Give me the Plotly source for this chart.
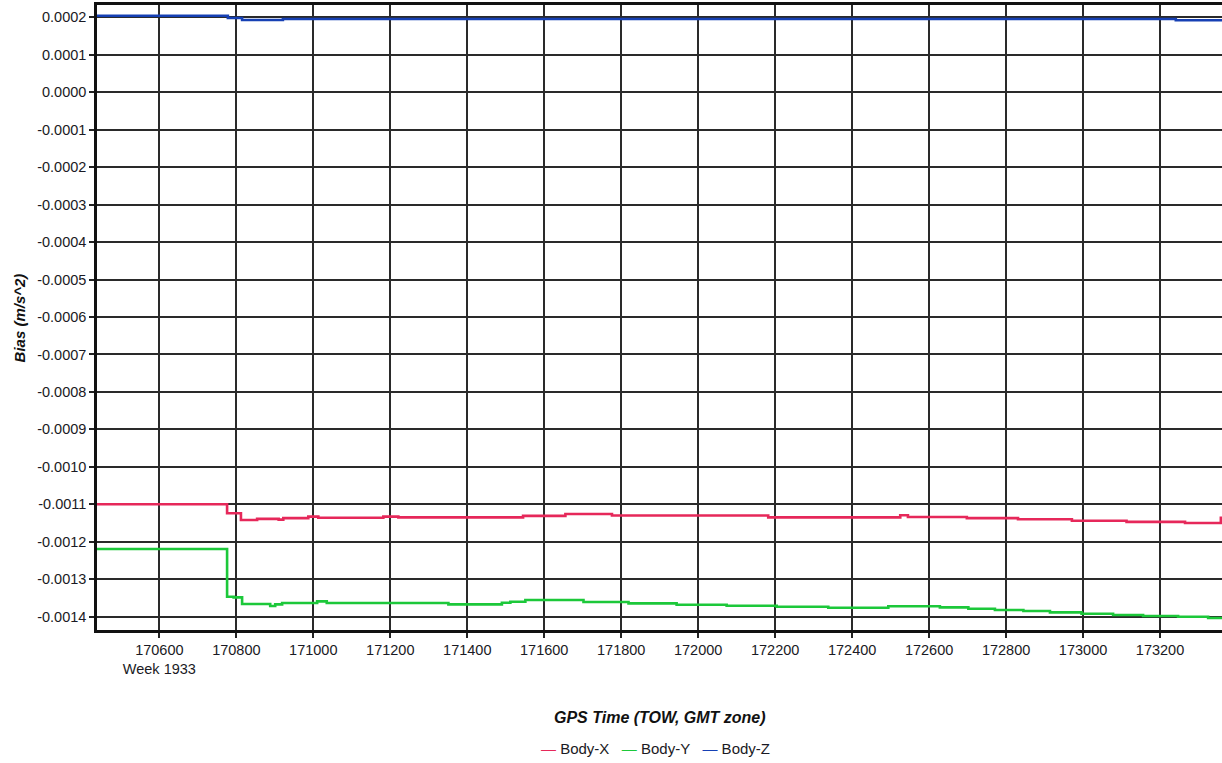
import plotly.graph_objects as go

# ---- data ----
time_x = [170438, 170776, 170812, 170854, 170910, 170922, 170987, 171013, 171182, 171221,
          171545, 171655, 171776, 172182, 172525, 172545, 172698, 172831, 172971, 173113,
          173265, 173358, 173361]
body_x = [-0.001100, -0.001124, -0.001142, -0.001139, -0.001141, -0.001137, -0.001133, -0.001136,
          -0.001133, -0.001135, -0.001131, -0.001126, -0.001130, -0.001135, -0.001129, -0.001134,
          -0.001137, -0.001140, -0.001144, -0.001147, -0.001150, -0.001136, -0.001136]

time_y = [170438, 170776, 170793, 170815, 170888, 170901, 170919, 171010, 171035, 171351,
          171490, 171512, 171551, 171702, 171819, 171944, 172074, 172204, 172338, 172494,
          172628, 172702, 172771, 172845, 172914, 172996, 173078, 173156, 173247, 173325, 173361]
body_y = [-0.0012194, -0.0013467, -0.0013483, -0.0013662, -0.0013715, -0.0013670, -0.0013635,
          -0.0013590, -0.0013635, -0.0013670, -0.0013627, -0.0013600, -0.0013555, -0.0013609,
          -0.0013643, -0.0013680, -0.0013707, -0.0013734, -0.0013761, -0.0013723, -0.0013750,
          -0.0013787, -0.0013822, -0.0013848, -0.0013884, -0.0013921, -0.0013956, -0.0013982,
          -0.0014001, -0.0014036, -0.0014036]

time_z = [170438, 170778, 170815, 170921, 173241, 173361]
body_z = [0.0002043, 0.0001981, 0.0001928, 0.0001955, 0.0001920, 0.0001920]

x_tick_values = [170600, 170800, 171000, 171200, 171400, 171600, 171800, 172000,
                 172200, 172400, 172600, 172800, 173000, 173200]
x_tick_labels = ["170600<br>Week 1933", "170800", "171000", "171200", "171400", "171600",
                 "171800", "172000", "172200", "172400", "172600", "172800", "173000", "173200"]
y_tick_labels = ["0.0002", "0.0001", "0.0000", "-0.0001", "-0.0002", "-0.0003", "-0.0004",
                 "-0.0005", "-0.0006", "-0.0007", "-0.0008", "-0.0009", "-0.0010", "-0.0011",
                 "-0.0012", "-0.0013", "-0.0014"]
y_tick_values = [float(s) for s in y_tick_labels]

series_names = ["Body-X", "Body-Y", "Body-Z"]
colors = ["#E6285A", "#1CC83A", "#1640B4"]

FONT = "Liberation Sans, Arial, sans-serif"
TXT = "#1a1a24"
GRID = "#2a2a2a"

fig = go.Figure()
for t, v, name, c in [(time_x, body_x, series_names[0], colors[0]),
                      (time_y, body_y, series_names[1], colors[1]),
                      (time_z, body_z, series_names[2], colors[2])]:
    fig.add_trace(go.Scatter(x=t, y=v, mode="lines", name=name,
                             line=dict(color=c, width=2.6, shape="hv"),
                             showlegend=False))

legend_text = "   ".join(
    f"<span style='color:{c}'>—</span> {n}" for n, c in zip(series_names, colors))

fig.update_layout(
    width=1222, height=763,
    margin=dict(l=97, r=0, t=5, b=133),
    paper_bgcolor="white", plot_bgcolor="white",
    font=dict(family=FONT, size=15, color=TXT),
    xaxis=dict(range=[170438, 173361], tickvals=x_tick_values, ticktext=x_tick_labels,
               showgrid=True, gridcolor=GRID, gridwidth=1.8,
               zeroline=False, showline=True, linecolor="#111", linewidth=2.5,
               mirror=True, ticks="outside", ticklen=5, tickwidth=1.6, tickcolor="#222",
               tickfont=dict(size=14.5, color=TXT), automargin=False),
    yaxis=dict(range=[-0.0014355, 0.0002328], tickvals=y_tick_values, ticktext=y_tick_labels,
               showgrid=True, gridcolor=GRID, gridwidth=1.8,
               zeroline=False, showline=True, linecolor="#111", linewidth=2.5,
               ticks="outside", ticklen=5, tickwidth=1.6, tickcolor="#222",
               tickfont=dict(size=14.5, color=TXT), automargin=False),
    annotations=[
        dict(text="<b><i>GPS Time (TOW, GMT zone)</i></b>", xref="paper", yref="paper",
             x=0.5, y=-0.1392, xanchor="center", yanchor="middle", showarrow=False,
             font=dict(size=16, color="#111")),
        dict(text="<b><i>Bias (m/s^2)</i></b>", xref="paper", yref="paper",
             x=-0.0685, y=0.5, xanchor="center", yanchor="middle", textangle=-90,
             showarrow=False, font=dict(size=15, color="#111")),
        dict(text=legend_text, xref="paper", yref="paper", x=0.496, y=-0.1888,
             xanchor="center", yanchor="middle", showarrow=False,
             font=dict(size=15, color=TXT)),
    ],
)

fig.write_html(
    "out.html",
    config={"displayModeBar": False},
    post_script="document.body.style.margin='0px';document.body.style.overflow='hidden';",
)
